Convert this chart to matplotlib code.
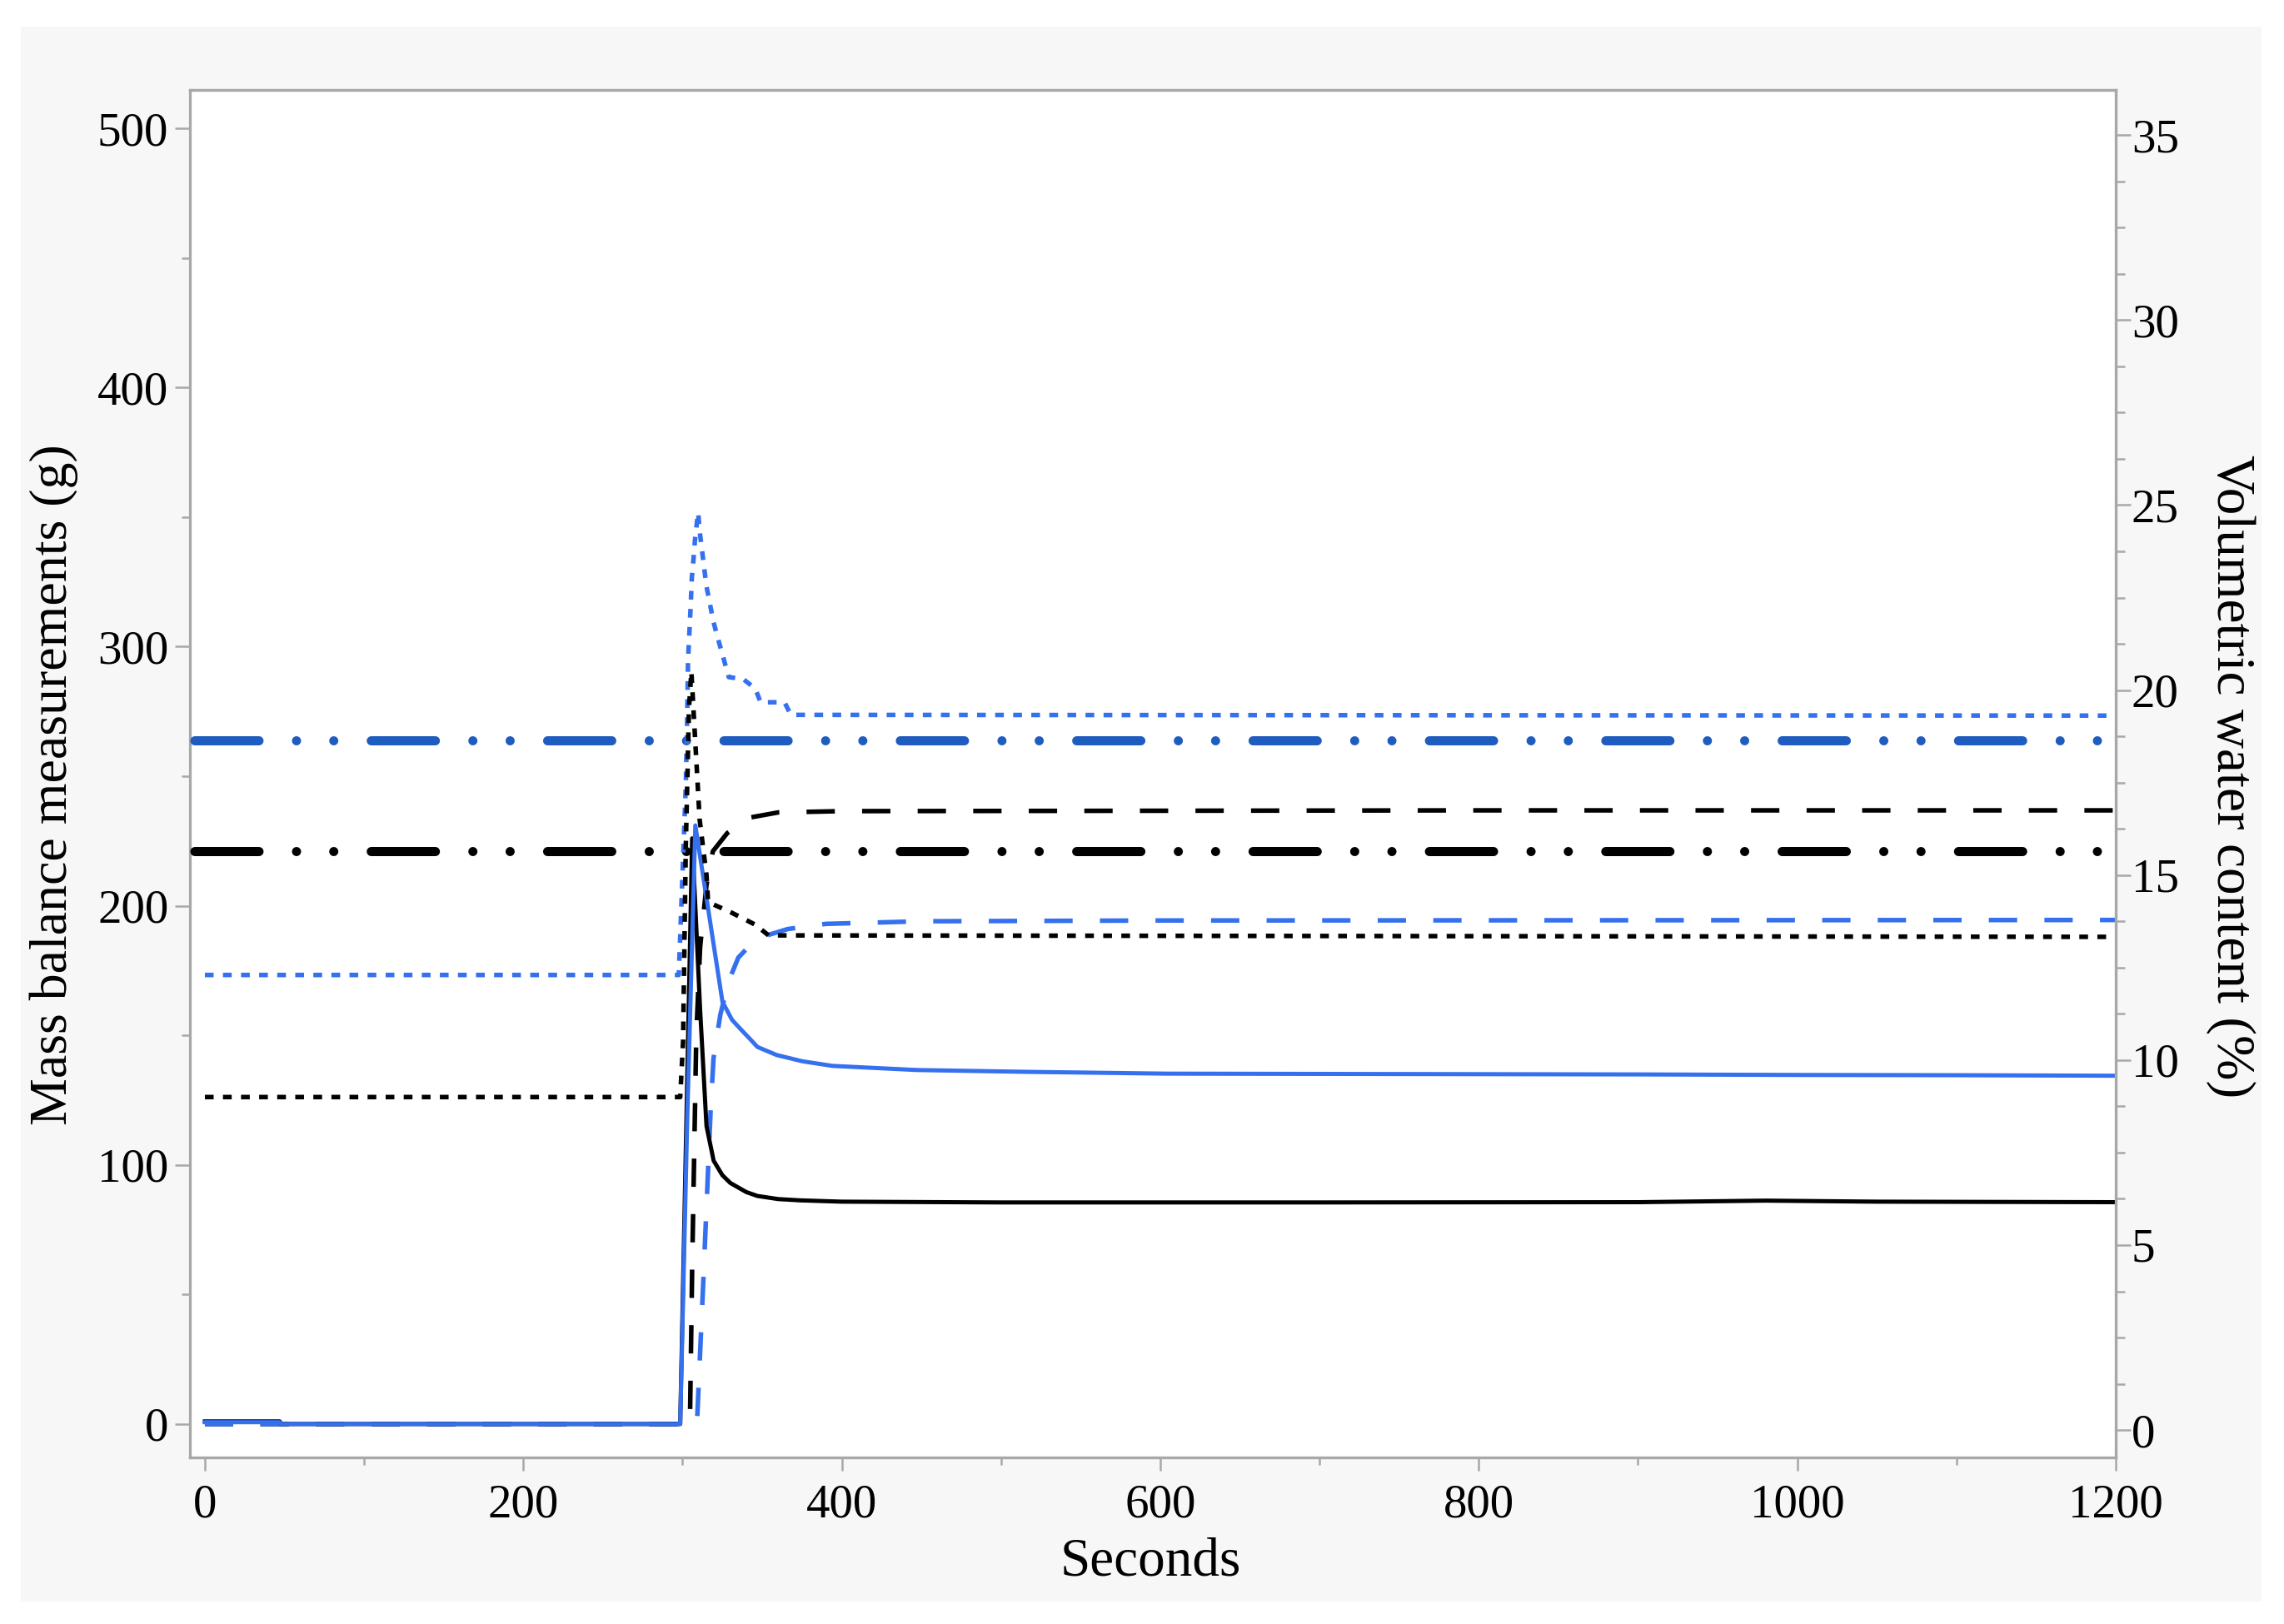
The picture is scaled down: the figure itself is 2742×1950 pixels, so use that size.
import matplotlib
matplotlib.use('Agg')
import matplotlib.pyplot as plt
import matplotlib.ticker as mticker
from matplotlib.patches import Rectangle

plt.rcParams['font.family'] = ['Liberation Serif', 'DejaVu Serif']
plt.rcParams['lines.scale_dashes'] = False

# ---- data ----
# mass balance (left axis, g)
t_blue_solid = [0, 47, 48, 298.5, 303, 308, 312, 316, 325, 331, 337, 342, 347,
                359, 375, 394, 447, 516, 604, 700, 800, 900, 1000, 1100, 1200]
v_blue_solid = [0.7, 0.7, 0, 0, 120, 231, 215, 199, 163, 156, 152, 148.8, 145.5,
                142.4, 140.0, 138.2, 136.6, 135.9, 135.2, 135.1, 135.0, 134.9, 134.7,
                134.6, 134.4]

t_black_solid = [0, 47, 48, 298.5, 306, 311, 315, 319.5, 325, 330, 340, 347,
                 360, 374, 400, 500, 700, 900, 980, 1050, 1200]
v_black_solid = [1.0, 1.0, 0, 0, 226, 160, 115, 101.6, 96, 93, 89.5, 88,
                 86.8, 86.3, 85.8, 85.5, 85.5, 85.6, 86.2, 85.8, 85.6]

t_blue_dash = [0, 309, 313, 317.6, 319.4, 323.7, 329, 335, 342, 350, 366, 390,
               450, 600, 1200]
v_blue_dash = [0, 0, 55, 121, 141, 158, 171, 180, 184.5, 188, 191, 193,
               194, 194.3, 194.5]

t_black_dash = [0, 304.6, 306, 308.6, 311, 315, 319, 328, 342, 360, 400, 800, 1200]
v_black_dash = [0, 0, 60, 150, 184, 208, 221, 228, 234, 236, 236.5, 236.8, 236.8]

# volumetric water content (right axis, %)
t_blue_dot = [0, 297.6, 302.0, 302.9, 303.4, 305.1, 305.8, 306.9, 307.7, 309.0,
              309.8, 310.7, 315, 319.4, 322.8, 329, 338, 345.6, 349, 364, 368, 1200]
v_blue_dot = [12.3, 12.3, 17.41, 19.29, 20.79, 22.29, 23.04, 23.57, 24.02, 24.54,
              24.8, 24.3, 22.8, 21.84, 21.3, 20.35, 20.3, 20.04, 19.67, 19.67, 19.33, 19.31]

t_black_dot = [0, 298.5, 300.3, 302, 304, 305.5, 310.7, 315, 316, 330, 345.6,
               354, 1200]
v_black_dot = [9.0, 9.0, 10.5, 15.75, 19.5, 20.5, 16.5, 15.0, 14.27, 14.0, 13.66,
               13.37, 13.33]

blue_dashdot_level = 18.64
black_dashdot_level = 15.65

x_ticks = [0, 200, 400, 600, 800, 1000, 1200]
left_ticks = [0, 100, 200, 300, 400, 500]
right_ticks = [0, 5, 10, 15, 20, 25, 30, 35]

# ---- style ----
LIGHT_BLUE = '#3570ef'
DARK_BLUE = '#1f5cc0'
SPINE = '#a8a8a8'
PX = 0.72  # points per pixel at dpi 100

fig = plt.figure(figsize=(27.42, 19.5), dpi=100)
fig.patch.set_facecolor('white')
fig.patches.append(Rectangle((25 / 2742, 1 - 1923 / 1950), 2690 / 2742, 1891 / 1950,
                             transform=fig.transFigure, facecolor='#f7f7f7',
                             edgecolor='none', zorder=-10))

ax = fig.add_axes([228 / 2742, 1 - 1750 / 1950, 2312 / 2742, 1642 / 1950])
ax.set_facecolor('white')
ax2 = ax.twinx()

dashdot = (148.5, (77 * PX, 45 * PX, 0.01, 44.7 * PX, 0.01, 45 * PX))
ax2.axhline(blue_dashdot_level, color=DARK_BLUE, lw=11 * PX, linestyle=dashdot,
            dash_capstyle='round')
ax2.axhline(black_dashdot_level, color='black', lw=11 * PX, linestyle=dashdot,
            dash_capstyle='round')

dotted = (0, (10.5 * PX, 11.2 * PX))
ax2.plot(t_blue_dot, v_blue_dot, color=LIGHT_BLUE, lw=5.5 * PX, linestyle=dotted)
ax2.plot(t_black_dot, v_black_dot, color='black', lw=5.5 * PX, linestyle=dotted)

dashed = (0, (34 * PX, 32.7 * PX))
ax.plot(t_black_dash, v_black_dash, color='black', lw=5.5 * PX, linestyle=dashed)
ax.plot(t_blue_dash, v_blue_dash, color=LIGHT_BLUE, lw=5.5 * PX, linestyle=dashed)
ax.plot(t_black_solid, v_black_solid, color='black', lw=5 * PX)
ax.plot(t_blue_solid, v_blue_solid, color=LIGHT_BLUE, lw=5 * PX)

ax.set_xlim(-9.4, 1200)
ax.set_ylim(-12.9, 514.8)
ax2.set_ylim(-0.74, 36.22)

ax.set_xticks(x_ticks)
ax.xaxis.set_minor_locator(mticker.MultipleLocator(100))
ax.set_yticks(left_ticks)
ax.yaxis.set_minor_locator(mticker.MultipleLocator(50))
ax2.set_yticks(right_ticks)
ax2.yaxis.set_minor_locator(mticker.MultipleLocator(1.25))

for a in (ax, ax2):
    for s in a.spines.values():
        s.set_color(SPINE)
        s.set_linewidth(3.2 * PX)
ax2.spines['left'].set_visible(False)

ax.tick_params(axis='y', which='major', length=13, width=1.8, color=SPINE,
               labelsize=41, pad=5.5)
ax.tick_params(axis='y', which='minor', length=7, width=1.8, color=SPINE)
ax.tick_params(axis='x', which='major', length=11.5, width=1.8, color=SPINE,
               labelsize=41, pad=11)
ax.tick_params(axis='x', which='minor', length=6.5, width=1.8, color=SPINE)
ax2.tick_params(axis='y', which='major', length=13, width=1.8, color=SPINE,
                labelsize=41, pad=0.5)
ax2.tick_params(axis='y', which='minor', length=8, width=1.8, color=SPINE)

fig.text(1381 / 2742, 1 - 1892 / 1950, 'Seconds', fontsize=47,
         ha='center', va='baseline')
fig.text(65 / 2742, 1 - 942 / 1950, 'Mass balance measurements (g)', fontsize=46,
         rotation=90, ha='center', va='center')
fig.text(2678 / 2742, 1 - 932 / 1950, 'Volumetric water content (%)', fontsize=47,
         rotation=270, ha='center', va='center')

fig.savefig('out.png', dpi=100)
